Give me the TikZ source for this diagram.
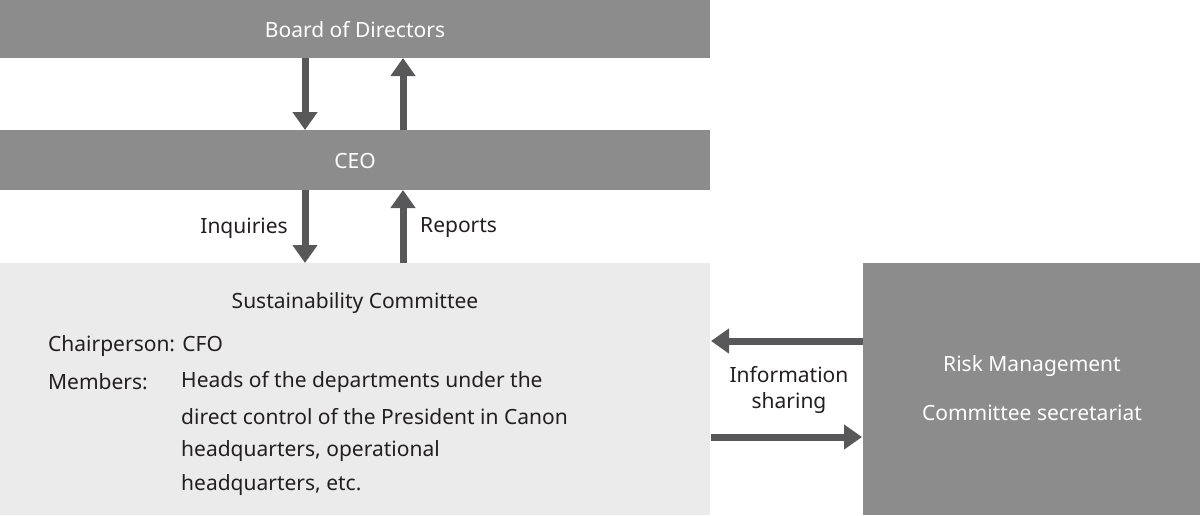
\documentclass[tikz,border=0pt]{standalone}
\usepackage{fontspec}
\setmainfont{Noto Sans}
\usetikzlibrary{arrows.meta}
\definecolor{boxg}{HTML}{8C8C8C}
\definecolor{lightg}{HTML}{EBEBEB}
\definecolor{arrg}{HTML}{58585A}
\definecolor{txt}{HTML}{231F20}
\tikzset{
  darkbox/.style={fill=boxg,draw=none},
  lightbox/.style={fill=lightg,draw=none},
  arr/.style={draw=arrg,line width=7pt,-{Triangle[length=18pt,width=24pt]},shorten >=0pt},
  wtext/.style={text=white,font=\fontsize{21}{25}\selectfont},
  btext/.style={text=txt,font=\fontsize{21}{25}\selectfont,inner sep=0pt},
}
\begin{document}
\begin{tikzpicture}[x=1pt,y=-1pt]
\useasboundingbox (0,0) rectangle (1200,515);
\fill[boxg] (0,0) rectangle (710,58);
\node[wtext] (board) at (355,30) {Board of Directors};
\fill[boxg] (0,130) rectangle (710,190);
\node[wtext] (ceo) at (355,161) {CEO};
\fill[lightg] (0,263) rectangle (710,515);
\fill[boxg] (863,263) rectangle (1200,515);
\coordinate (b1) at (305,58); \coordinate (c1) at (305,130);
\coordinate (b2) at (403,58); \coordinate (c2) at (403,130);
\coordinate (c3) at (305,190); \coordinate (s1) at (305,263);
\coordinate (c4) at (403,190); \coordinate (s2) at (403,263);
\coordinate (r1) at (863,341); \coordinate (s3) at (711,341);
\coordinate (s4) at (711,437); \coordinate (r2) at (862,437);
\draw[arr] (b1) -- (c1);
\draw[arr] (c2) -- (b2);
\draw[arr] (c3) -- (s1);
\draw[arr] (s2) -- (c4);
\draw[arr] (r1) -- (s3);
\draw[arr] (s4) -- (r2);
\node[btext,anchor=east] (inq) at (288,228) {Inquiries};
\node[btext,anchor=west] (rep) at (420,228) {Reports};
\node[btext] (sc) at (355,303) {Sustainability Committee};
\node[btext,anchor=west] (ch) at (48,346) {Chairperson: CFO};
\node[btext,anchor=west] (mem) at (48,382) {Members:};
\node[btext,anchor=west] (m1) at (181,382) {Heads of the departments under the};
\node[btext,anchor=west] (m2) at (181,417) {direct control of the President in Canon};
\node[btext,anchor=west] (m3) at (181,451) {headquarters, operational};
\node[btext,anchor=west] (m4) at (181,485) {headquarters, etc.};
\node[btext] (is1) at (789,375) {Information};
\node[btext] (is2) at (789,403) {sharing};
\node[btext,text=white] (rm1) at (1032,366) {Risk Management};
\node[btext,text=white] (rm2) at (1032,413) {Committee secretariat};
\end{tikzpicture}
\end{document}
